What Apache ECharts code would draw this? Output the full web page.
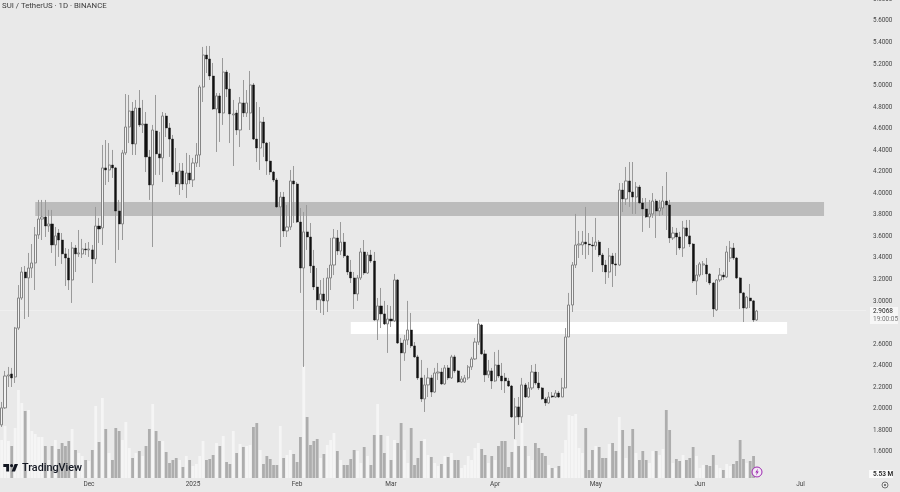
<!DOCTYPE html>
<html><head><meta charset="utf-8">
<style>html,body{margin:0;padding:0;background:#e9e9e9}#c{width:900px;height:492px}</style>
<script src="https://cdn.jsdelivr.net/npm/echarts@6/dist/echarts.min.js"></script>
</head><body><div id="c"></div>
<script>
const title = 'SUI / TetherUS · 1D · BINANCE';
const firstDay = '2024-11-05';
const dayCount = 258;
const tickLabels = {'2024-12-01':'Dec','2025-01-01':'2025','2025-02-01':'Feb','2025-03-01':'Mar','2025-04-01':'Apr','2025-05-01':'May','2025-06-01':'Jun','2025-07-01':'Jul'};
const opens = [1.850,2.008,2.304,2.323,2.295,2.749,3.028,3.269,3.214,3.306,
3.353,3.613,3.761,3.780,3.696,3.715,3.520,3.631,3.566,3.437,
3.399,3.195,3.492,3.437,3.437,3.483,3.474,3.474,3.390,3.696,
3.678,4.235,4.216,4.262,4.235,3.835,3.715,4.374,4.615,4.763,
4.457,4.791,4.634,4.643,4.337,4.077,4.578,4.365,4.328,4.717,
4.606,4.503,4.197,4.086,4.207,4.086,4.188,4.123,4.281,4.355,
4.986,5.283,5.246,5.088,4.782,4.903,4.745,5.125,4.967,4.727,
4.745,4.587,4.838,4.745,4.745,5.005,4.503,4.420,4.661,4.466,
4.299,4.197,4.123,3.873,3.965,3.650,3.687,4.114,4.086,3.733,
3.306,3.641,3.594,3.325,3.130,3.010,3.065,3.001,3.214,3.334,
3.585,3.464,3.547,3.418,3.269,3.214,3.065,3.214,3.455,3.260,
3.427,3.371,2.824,2.954,2.880,2.787,2.833,2.815,3.195,2.610,
2.518,2.638,2.731,2.583,2.481,2.286,2.091,2.221,2.286,2.155,
2.332,2.341,2.230,2.379,2.286,2.481,2.351,2.248,2.248,2.286,
2.388,2.462,2.619,2.777,2.509,2.314,2.351,2.258,2.406,2.304,
2.286,2.258,2.211,1.924,2.017,1.924,2.221,2.109,2.193,2.341,
2.239,2.193,2.091,2.054,2.119,2.109,2.146,2.109,2.193,2.666,
2.963,3.334,3.520,3.520,3.547,3.529,3.520,3.511,3.547,3.427,
3.334,3.269,3.418,3.344,3.334,4.030,3.947,4.114,4.012,3.965,
4.058,3.910,3.854,3.780,3.808,3.928,3.835,3.863,3.928,3.891,
3.585,3.631,3.594,3.492,3.678,3.604,3.529,3.186,3.241,3.334,
3.334,3.251,3.167,2.917,3.195,3.241,3.223,3.399,3.492,3.399,
3.214,3.075,2.935,3.028,3.001,2.824];
const closes = [2.008,2.304,2.314,2.286,2.749,3.028,3.269,3.214,3.306,3.353,
3.613,3.761,3.780,3.696,3.715,3.520,3.604,3.566,3.437,3.399,
3.195,3.492,3.437,3.446,3.483,3.474,3.483,3.390,3.696,3.668,
4.235,4.216,4.262,4.235,3.835,3.715,4.374,4.615,4.763,4.457,
4.791,4.634,4.643,4.337,4.077,4.587,4.365,4.328,4.717,4.606,
4.503,4.197,4.086,4.207,4.086,4.188,4.123,4.281,4.355,4.986,
5.283,5.246,5.088,4.782,4.903,4.745,5.125,4.967,4.736,4.736,
4.587,4.838,4.745,4.838,5.005,4.503,4.420,4.661,4.466,4.299,
4.197,4.123,3.873,3.965,3.650,3.687,4.114,4.086,3.733,3.306,
3.641,3.594,3.325,3.130,3.010,3.065,3.001,3.214,3.334,3.585,
3.464,3.547,3.418,3.269,3.214,3.065,3.214,3.455,3.260,3.427,
3.371,2.824,2.954,2.880,2.787,2.833,2.815,3.195,2.610,2.518,
2.638,2.731,2.583,2.481,2.286,2.091,2.221,2.286,2.155,2.332,
2.341,2.230,2.379,2.286,2.481,2.351,2.248,2.276,2.286,2.388,
2.462,2.619,2.787,2.509,2.314,2.351,2.258,2.406,2.304,2.258,
2.258,2.211,1.924,2.017,1.924,2.221,2.109,2.193,2.341,2.239,
2.193,2.091,2.054,2.109,2.109,2.146,2.109,2.193,2.666,2.963,
3.334,3.520,3.529,3.547,3.529,3.520,3.511,3.547,3.427,3.334,
3.269,3.418,3.344,3.334,4.030,3.947,4.114,4.012,3.965,4.058,
3.910,3.854,3.780,3.808,3.928,3.835,3.863,3.928,3.891,3.585,
3.631,3.594,3.492,3.678,3.604,3.529,3.186,3.241,3.344,3.344,
3.251,3.167,2.926,3.195,3.241,3.223,3.455,3.492,3.399,3.214,
3.075,2.935,3.037,3.001,2.824,2.9068];
const highs = [2.063,2.351,2.388,2.379,2.759,3.148,3.315,3.325,3.446,3.529,
3.687,3.938,3.938,3.938,3.845,3.845,3.687,3.668,3.631,3.492,
3.483,3.547,3.520,3.659,3.576,3.538,3.547,3.520,3.873,3.771,
4.448,4.494,4.466,4.402,4.244,3.938,4.402,4.921,4.912,4.847,
4.866,4.958,4.866,4.754,4.402,4.634,4.912,4.569,4.754,4.745,
4.652,4.541,4.420,4.281,4.281,4.374,4.355,4.328,4.466,5.005,
5.358,5.367,5.367,5.209,4.930,4.930,5.255,5.144,5.116,4.866,
4.773,4.893,5.051,4.958,5.135,5.023,4.847,4.800,4.708,4.476,
4.476,4.207,4.142,4.012,4.012,3.891,4.216,4.253,4.104,3.863,
3.826,3.891,3.724,3.474,3.306,3.195,3.214,3.306,3.585,3.668,
3.659,3.733,3.631,3.427,3.381,3.269,3.241,3.492,3.566,3.455,
3.474,3.455,3.028,3.121,3.001,2.963,2.954,3.251,3.204,2.657,
2.685,3.001,2.889,2.619,2.500,2.453,2.314,2.379,2.314,2.379,
2.425,2.379,2.406,2.406,2.500,2.500,2.360,2.304,2.314,2.406,
2.481,2.657,2.833,2.787,2.546,2.453,2.379,2.527,2.546,2.425,
2.332,2.286,2.221,2.100,2.109,2.286,2.239,2.248,2.406,2.416,
2.341,2.202,2.109,2.155,2.155,2.174,2.165,2.286,2.749,3.075,
3.362,3.808,3.650,3.650,3.873,3.631,3.594,3.771,3.566,3.446,
3.381,3.492,3.446,3.446,4.095,4.095,4.244,4.290,4.290,4.104,
4.077,3.956,3.956,3.938,4.002,3.947,3.938,4.067,4.197,3.938,
3.687,3.678,3.641,3.743,3.752,3.752,3.538,3.334,3.362,3.371,
3.399,3.260,3.176,3.204,3.306,3.269,3.511,3.557,3.538,3.409,
3.223,3.084,3.047,3.158,3.010,2.917];
const lows = [1.831,1.999,2.202,2.202,2.239,2.731,3.010,2.833,2.852,3.214,
3.102,3.576,3.566,3.594,3.641,3.446,3.325,3.409,3.344,3.139,
3.102,2.982,3.269,3.409,3.399,3.427,3.409,3.167,3.344,3.538,
3.520,4.077,4.104,4.142,3.353,3.474,3.566,4.355,4.466,4.355,
4.355,4.615,4.559,4.197,3.938,3.501,4.170,4.170,4.104,4.522,
4.337,4.170,4.058,3.984,4.030,3.956,4.086,4.058,4.244,4.244,
4.847,5.116,5.051,4.773,4.383,4.476,4.634,4.893,4.466,4.253,
4.541,4.429,4.708,4.708,4.587,4.494,4.290,4.216,4.337,4.170,
4.170,4.104,3.863,3.501,3.594,3.594,3.659,3.724,3.724,3.075,
2.388,3.474,3.260,3.102,2.917,2.889,2.870,2.898,3.102,3.241,
3.427,3.427,3.399,3.241,3.167,2.926,3.001,3.195,3.241,3.251,
3.353,2.815,2.638,2.749,2.777,2.518,2.759,2.805,2.601,2.258,
2.444,2.592,2.564,2.472,2.267,2.063,1.970,2.109,2.109,2.146,
2.267,2.221,2.221,2.267,2.276,2.332,2.239,2.239,2.239,2.267,
2.360,2.453,2.592,2.500,2.248,2.286,2.184,2.248,2.286,2.174,
2.146,2.202,1.915,1.719,1.850,1.869,2.100,2.100,2.174,2.221,
2.174,2.082,2.026,2.045,2.100,2.100,2.100,2.109,2.193,2.666,
2.898,3.306,3.399,3.427,3.390,3.427,3.269,3.474,3.409,3.269,
3.158,3.214,3.130,3.232,3.325,3.826,3.891,3.873,3.808,3.808,
3.901,3.641,3.771,3.678,3.771,3.585,3.789,3.798,3.659,3.538,
3.566,3.427,3.474,3.409,3.594,3.501,3.167,3.056,3.223,3.241,
3.176,3.148,2.852,2.907,3.176,3.195,3.214,3.362,3.381,3.204,
2.926,2.805,2.926,2.935,2.805,2.815];
const volumes = [76,104,74,64,100,176,150,134,136,94,
88,82,82,64,36,64,76,58,70,64,
74,98,56,50,44,36,34,56,144,72,
160,98,50,36,100,94,76,112,60,40,
50,54,44,64,98,148,94,74,74,52,
30,36,40,36,22,44,36,24,28,44,
74,36,38,46,70,64,84,32,28,94,
50,68,62,64,66,102,110,56,28,44,
38,26,26,104,40,46,56,48,32,82,
224,122,66,74,78,40,48,66,76,90,
54,36,26,26,38,56,54,30,62,44,
26,86,148,86,50,84,36,76,70,110,
56,30,100,26,40,74,78,46,42,30,
24,28,44,42,50,36,36,20,26,44,
36,60,70,58,46,30,44,36,64,74,
74,22,52,76,64,110,64,44,36,70,
60,50,44,26,20,20,24,50,76,126,
124,128,60,50,100,16,56,64,62,40,
40,68,70,54,122,96,40,64,98,50,
36,54,36,30,54,54,46,58,136,96,
30,38,34,46,36,40,62,44,20,26,
26,24,46,26,20,16,28,24,28,34,
76,38,30,34,44,5.53];
const greyZone = {fromDay:10, toDay:245, top:3.919, bottom:3.789};
const whiteZone = {fromDay:104, toDay:234, top:2.805, bottom:2.694};
const lastPrice = 2.9068;
const lastPriceText = '2.9068';
const countdownText = '19:00:05';
const lastVolumeText = '5.53 M';

const days = [];
{ const d = new Date(firstDay + 'T00:00:00Z');
  for (let i = 0; i < dayCount; i++) { days.push(d.toISOString().slice(0,10)); d.setUTCDate(d.getUTCDate()+1); } }

const font = 'Roboto, "Liberation Sans", sans-serif';
const wicks = opens.map((o,i)=>[o,closes[i],lows[i],highs[i]]);
const bodies = opens.map((o,i)=>{
  const c = closes[i], item = {value:[o,c,Math.min(o,c),Math.max(o,c)]};
  if (c < o) item.itemStyle = {borderWidth:0.4};
  return item;
});
const volumeBars = volumes.map((v,i)=>({value:v,itemStyle:{color:closes[i]>=opens[i]?'#f5f5f5':'#adadad'}}));

const chart = echarts.init(document.getElementById('c'),null,{renderer:'canvas'});
chart.setOption({
  animation:false,
  backgroundColor:'#e9e9e9',
  title:{text:title,left:2,top:2,padding:0,textStyle:{fontFamily:font,fontSize:7.8,fontWeight:400,color:'#3a3a3a'}},
  grid:[{left:0,top:-0.7,width:866,height:474.1,outerBoundsMode:'none'},{left:0,top:358,width:866,height:120,outerBoundsMode:'none'}],
  xAxis:[
    {type:'category',gridIndex:0,data:days,show:false},
    {type:'category',gridIndex:1,data:days,axisLine:{show:false},axisTick:{show:false},
     axisLabel:{margin:3,fontFamily:font,fontSize:6.5,color:'#444',
       interval:(i,v)=>v in tickLabels,formatter:v=>tickLabels[v]||''}}
  ],
  yAxis:[
    {type:'value',gridIndex:0,position:'right',min:1.4,max:5.8,interval:0.2,splitLine:{show:false},
     axisLine:{show:false},axisTick:{show:false},
     axisLabel:{margin:7,fontFamily:font,fontSize:6.3,color:'#444',
       formatter:v=>Math.abs(v-1.4)<1e-6?'':v.toFixed(4)}},
    {type:'value',gridIndex:1,min:0,max:240,show:false,splitLine:{show:false}}
  ],
  series:[
    {type:'candlestick',name:'wicks',xAxisIndex:0,yAxisIndex:0,barWidth:1,z:3,data:wicks,
     itemStyle:{color:'#9a9a9a',color0:'#9a9a9a',borderColor:'#9a9a9a',borderColor0:'#9a9a9a',borderWidth:1},
     markArea:{silent:true,z:1,data:[
       [{xAxis:days[greyZone.fromDay],yAxis:greyZone.top,itemStyle:{color:'#bcbcbc'}},{xAxis:days[greyZone.toDay],yAxis:greyZone.bottom}],
       [{xAxis:days[whiteZone.fromDay],yAxis:whiteZone.top,itemStyle:{color:'#ffffff'}},{xAxis:days[whiteZone.toDay],yAxis:whiteZone.bottom}]
     ]},
     markLine:{silent:true,symbol:'none',z:1,label:{show:false},lineStyle:{color:'#efefef',width:1,type:'solid'},data:[{yAxis:lastPrice}]}},
    {type:'candlestick',name:'bodies',xAxisIndex:0,yAxisIndex:0,barWidth:2.6,z:4,data:bodies,
     itemStyle:{color:'#f2f2f2',color0:'#111111',borderColor:'#858585',borderColor0:'#111111',borderWidth:1}},
    {type:'bar',name:'volume',xAxisIndex:1,yAxisIndex:1,barWidth:2.8,data:volumeBars}
  ],
  graphic:[
    {type:'polygon',z:50,shape:{points:[[3.3,464],[9.1,464],[9.1,471.6],[6.2,471.6],[6.2,467],[3.3,467]]},style:{fill:'#131722'}},
    {type:'polygon',z:50,shape:{points:[[14.6,464],[18,464],[15,471.6],[11.6,471.6]]},style:{fill:'#131722'}},
    {type:'circle',z:50,shape:{cx:11.6,cy:465.6,r:1.6},style:{fill:'#131722'}},
    {type:'text',z:50,x:22,y:463,style:{text:'TradingView',font:'500 10.8px '+font,fill:'#131722'}},
    {type:'circle',z:50,shape:{cx:757,cy:472,r:5},style:{fill:'#f3e9f5',stroke:'#9c27b0',lineWidth:1}},
    {type:'polygon',z:51,shape:{points:[[758,468.6],[755.3,472.5],[756.9,472.5],[756,475.4],[758.8,471.4],[757.2,471.4]]},style:{fill:'#9c27b0'}},
    {type:'rect',z:50,shape:{x:870,y:307,width:28,height:17},style:{fill:'#f7f7f7'}},
    {type:'text',z:51,x:873,y:308,style:{text:lastPriceText,font:'6.5px '+font,fill:'#222'}},
    {type:'text',z:51,x:873,y:316,style:{text:countdownText,font:'6.5px '+font,fill:'#777'}},
    {type:'rect',z:50,shape:{x:869,y:470,width:24,height:8},style:{fill:'#fafafa'}},
    {type:'text',z:51,x:873,y:471,style:{text:lastVolumeText,font:'600 6.5px '+font,fill:'#222'}},
    {type:'circle',z:50,shape:{cx:885,cy:485,r:3},style:{fill:'none',stroke:'#555',lineWidth:0.8}},
    {type:'circle',z:50,shape:{cx:885,cy:485,r:1},style:{fill:'#555'}}
  ]
});
</script></body></html>
